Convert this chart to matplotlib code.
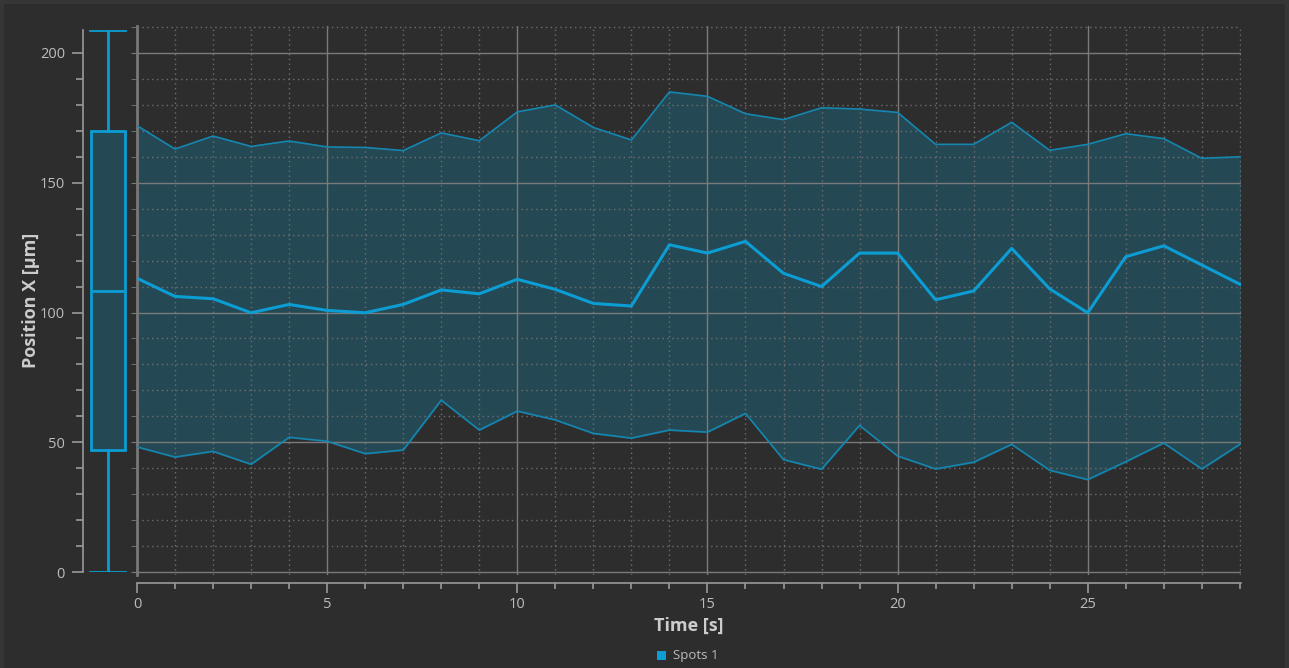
import numpy as np
import matplotlib
matplotlib.use('Agg')
import matplotlib.pyplot as plt
from matplotlib.ticker import MultipleLocator
from matplotlib.patches import Rectangle

plt.rcParams['font.family'] = ['Open Sans', 'DejaVu Sans']

# data
time_s = list(range(30))
upper = [172, 163, 168, 164, 166.1, 163.8, 163.6, 162.4, 169.2, 166.2,
         177.3, 180, 171.3, 166.5, 185, 183.3, 176.6, 174.3, 178.9, 178.4,
         177.1, 164.8, 164.8, 173.3, 162.5, 164.8, 168.9, 167, 159.4, 160]
middle = [113.2, 106.2, 105.3, 99.9, 103.1, 100.8, 99.9, 103.1, 108.7, 107.2,
          112.8, 108.9, 103.5, 102.5, 126.1, 122.9, 127.4, 115.1, 110, 122.9,
          122.9, 104.9, 108.3, 124.7, 109.1, 99.9, 121.5, 125.7, 118.3, 110.9]
lower = [48.2, 44.3, 46.5, 41.5, 51.9, 50.4, 45.6, 47, 66.2, 54.7,
         62, 58.6, 53.4, 51.6, 54.7, 53.9, 61.1, 43.3, 39.6, 56.5,
         44.7, 39.7, 42.3, 49.2, 39.2, 35.6, 42.5, 49.7, 39.7, 49.2]
box_stats = {'whislo': 0, 'q1': 47, 'med': 108.3, 'q3': 170, 'whishi': 208.5}
series_name = 'Spots 1'

BG = '#2d2d2d'
FILL = '#254954'
LINE = '#0b9dd3'
EDGE = '#1586b0'
GRID = '#7a7a7a'
MINOR = '#6e6e6e'
TXT = '#bcbcbc'

W, H = 1289, 668
fig = plt.figure(figsize=(W / 100, H / 100), dpi=100, facecolor='#363636')
fig.patches.append(Rectangle((4 / W, 0), 1 - 8 / W, 1 - 4 / H, transform=fig.transFigure,
                             facecolor=BG, edgecolor='none', zorder=-10))


def fbox(left, top, right, bottom):
    return [left / W, 1 - bottom / H, (right - left) / W, (bottom - top) / H]


# scale: 2.595 px per unit, 0 at y=572
ppu = 2.595
y0 = 572

# main time plot
ax = fig.add_axes(fbox(137, y0 - 210.5 * ppu, 1241, y0 + 1.2 * ppu))
ax.set_facecolor('none')
ax.set_xlim(0, 29.03)
ax.set_ylim(-1.2, 210.5)
ax.fill_between(time_s, lower, upper, color=FILL, zorder=1)
ax.plot(time_s, upper, color=EDGE, lw=1.2, zorder=3)
ax.plot(time_s, lower, color=EDGE, lw=1.2, zorder=3)
ax.plot(time_s, middle, color=LINE, lw=2.2, zorder=4)

ax.xaxis.set_major_locator(MultipleLocator(5))
ax.xaxis.set_minor_locator(MultipleLocator(1))
ax.yaxis.set_major_locator(MultipleLocator(50))
ax.yaxis.set_minor_locator(MultipleLocator(10))
ax.grid(which='major', color=GRID, lw=1.0, zorder=2)
ax.grid(which='minor', color=MINOR, lw=1.0, ls=(0, (1, 2.5)), zorder=2)
ax.set_axisbelow(False)
for gl in ax.get_xgridlines() + ax.get_ygridlines():
    gl.set_zorder(2)

for s in ['top', 'right']:
    ax.spines[s].set_visible(False)
ax.spines['left'].set_color('#777777')
ax.spines['left'].set_linewidth(2)
ax.spines['bottom'].set_position(('outward', 6))
ax.spines['bottom'].set_color('#9a9a9a')
ax.spines['bottom'].set_linewidth(1.2)
ax.tick_params(axis='y', which='both', left=True, labelleft=False, length=4,
               color=GRID, direction='out')
ax.tick_params(axis='x', which='major', length=7, width=1.2, color='#9a9a9a',
               labelcolor=TXT, labelsize=10.5, pad=3)
ax.tick_params(axis='x', which='minor', length=4, width=1.2, color='#9a9a9a')
ax.set_xlabel('Time [s]', color='#cccccc', fontsize=13, fontweight='bold', labelpad=3)

# box plot on the left
bx = fig.add_axes(fbox(83, y0 - 209 * ppu, 133, y0))
bx.set_facecolor('none')
bx.set_ylim(0, 209)
bx.set_xlim(0, 1)
bx.bxp([box_stats], positions=[0.5], widths=0.68, showfliers=False, patch_artist=True,
       boxprops=dict(facecolor=FILL, edgecolor=LINE, lw=2),
       medianprops=dict(color=LINE, lw=2),
       whiskerprops=dict(color=LINE, lw=2),
       capprops=dict(color=LINE, lw=1.3), capwidths=0.72)
for s in ['top', 'right', 'bottom']:
    bx.spines[s].set_visible(False)
bx.spines['left'].set_color('#9a9a9a')
bx.spines['left'].set_linewidth(1.2)
bx.set_xticks([])
bx.yaxis.set_major_locator(MultipleLocator(50))
bx.yaxis.set_minor_locator(MultipleLocator(10))
bx.tick_params(axis='y', which='major', length=8, width=1.2, color='#9a9a9a',
               labelcolor=TXT, labelsize=10.5, pad=5)
bx.tick_params(axis='y', which='minor', length=5, width=1.2, color='#9a9a9a')
bx.set_ylabel('Position X [µm]', color='#cccccc', fontsize=13, fontweight='bold', labelpad=0)

# legend
fig.patches.append(Rectangle((657 / W, 1 - 660 / H), 9 / W, 9 / H, transform=fig.transFigure,
                             facecolor=LINE, edgecolor='none'))
fig.text(673 / W, 1 - 655 / H, series_name, color=TXT, fontsize=9.5, va='center', ha='left')

fig.savefig('out.png', dpi=100, facecolor=fig.get_facecolor())
